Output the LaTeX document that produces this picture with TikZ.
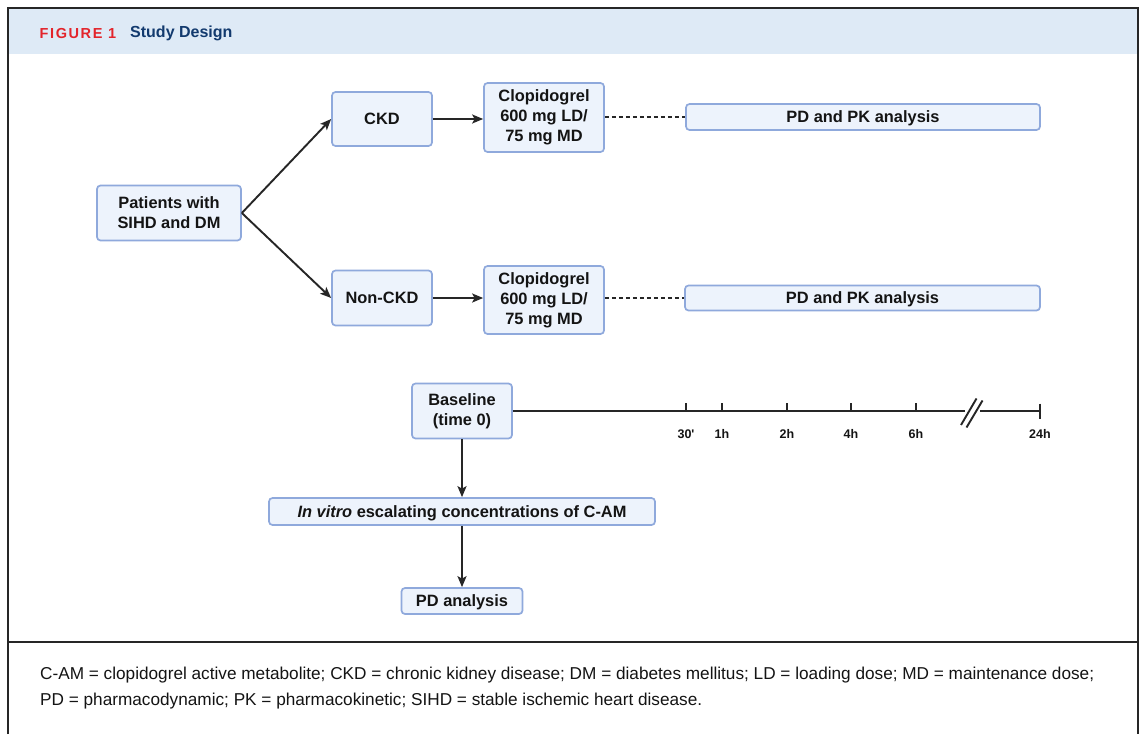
\documentclass[tikz,border=0pt]{standalone}
\usepackage{fontspec}
\setmainfont{Liberation Sans}
\newfontfamily\hdrfont[LetterSpace=11]{Liberation Sans}
\usetikzlibrary{arrows.meta}
\definecolor{boxfill}{HTML}{EDF3FC}
\definecolor{boxdraw}{HTML}{8FA9DC}
\definecolor{hdr}{HTML}{DEEAF6}
\definecolor{figred}{HTML}{E3242B}
\definecolor{navy}{HTML}{123A6E}
\definecolor{ink}{HTML}{262626}
\begin{document}
\begin{tikzpicture}[x=1pt,y=-1pt,
  box/.style={draw=boxdraw, fill=boxfill, line width=1.7pt, rounded corners=3.5pt,
    align=center, inner sep=0pt, text=black!92,
    font=\bfseries\fontsize{16.4}{20}\selectfont},
  oneline/.style={text height=11.7pt, text depth=0pt},
  arr/.style={draw=ink, line width=1.9pt, -{Stealth[length=11pt,width=9pt,inset=2.5pt]}},
  dashline/.style={draw=ink, line width=1.7pt, dash pattern=on 4pt off 3pt},
  tline/.style={draw=ink, line width=1.9pt},
  tlab/.style={font=\bfseries\fontsize{12.5}{14}\selectfont, text=black!92},
  captext/.style={anchor=west, inner sep=0pt, font=\fontsize{17.2}{20}\selectfont, text=black!92}]
\useasboundingbox (0,0) rectangle (1142,734);
\fill[white] (0,0) rectangle (1142,734);
\fill[hdr] (8,8) rectangle (1138,54);
\draw[line width=2pt, ink] (8,734) -- (8,8) -- (1138,8) -- (1138,734);
\draw[line width=1.6pt, ink] (8,642) -- (1138,642);
% header
\node[anchor=west, inner sep=0pt, text=figred, font=\hdrfont\bfseries\fontsize{14.5}{16}\selectfont] (fig) at (39.5,34) {FIGURE 1};
\node[anchor=west, inner sep=0pt, text=navy, font=\bfseries\fontsize{16}{18}\selectfont] (title) at (130,33.5) {Study Design};
% boxes
\node[box, minimum width=144pt, minimum height=55pt] (pat) at (169,213) {Patients with\\SIHD and DM};
\node[box, oneline, minimum width=100pt, minimum height=54pt] (ckd) at (382,119) {CKD};
\node[box, oneline, minimum width=100pt, minimum height=55pt] (nckd) at (382,298) {Non-CKD};
\node[box, minimum width=120pt, minimum height=69pt] (clopa) at (544,117.5) {Clopidogrel\\600 mg LD/\\75 mg MD};
\node[box, minimum width=120pt, minimum height=68pt] (clopb) at (544,300) {Clopidogrel\\600 mg LD/\\75 mg MD};
\node[box, oneline, minimum width=354pt, minimum height=26pt] (pka) at (863,117) {PD and PK analysis};
\node[box, oneline, minimum width=355pt, minimum height=25pt] (pkb) at (862.5,298) {PD and PK analysis};
\node[box, minimum width=100pt, minimum height=55pt] (base) at (462,411) {Baseline\\(time 0)};
\node[box, oneline, minimum width=386pt, minimum height=27pt] (vitro) at (462,511.5) {\textit{In vitro} escalating concentrations of C-AM};
\node[box, oneline, minimum width=121pt, minimum height=26pt] (pda) at (462,601) {PD analysis};
% connectors
\draw[arr] (pat.east) -- (ckd.west);
\draw[arr] (pat.east) -- (nckd.west);
\draw[arr] (ckd.east) -- (clopa.west |- ckd.east);
\draw[arr] (nckd.east) -- (clopb.west |- nckd.east);
\draw[dashline] (clopa.east |- pka.west) -- (pka.west);
\draw[dashline] (clopb.east |- pkb.west) -- (pkb.west);
\draw[arr] (base.south) -- (vitro.north);
\draw[arr] (vitro.south) -- (pda.north);
% timeline
\coordinate (tend) at (1040,411);
\draw[tline] (base.east) -- (tend);
\draw[tline] (1040,403.5) -- (1040,418.5);
\foreach \x/\l in {686/{30\textquotesingle}, 722/1h, 787/2h, 851/4h, 916/6h}{
  \draw[tline] (\x,411) -- (\x,403);
  \node[tlab] at (\x,434) {\l};
}
\node[tlab] at (1040,434) {24h};
\fill[white] (965,407) rectangle (980,415);
\draw[tline] (961,425) -- (976.5,398.5);
\draw[tline] (966.5,427.5) -- (982.5,400.5);
% caption
\node[captext] (cap1) at (40,675.5) {C-AM = clopidogrel active metabolite; CKD = chronic kidney disease; DM = diabetes mellitus; LD = loading dose; MD = maintenance dose;};
\node[captext] (cap2) at (40,701.5) {PD = pharmacodynamic; PK = pharmacokinetic; SIHD = stable ischemic heart disease.};
\end{tikzpicture}
\end{document}
